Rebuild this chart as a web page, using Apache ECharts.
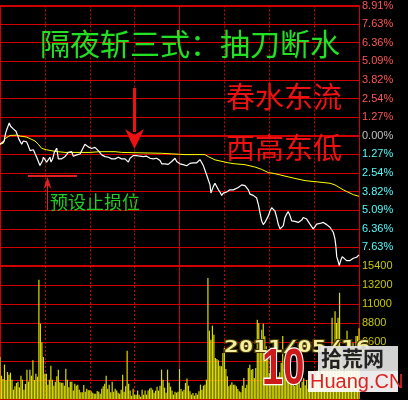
<!DOCTYPE html>
<html><head><meta charset="utf-8">
<script src="https://cdn.jsdelivr.net/npm/echarts@6/dist/echarts.min.js"></script>
<style>html,body{margin:0;padding:0;background:#000}#c{width:408px;height:400px}</style>
</head><body><div id="c"></div>
<script>
// minute of session (0..240) and % change for the price line
const priceTimes = [0,2.7,3.8,4.9,6.2,7.1,8.2,8.9,10.0,10.7,11.6,12.7,13.4,14.5,15.6,16.7,17.8,18.9,20.1,21.2,22.3,23.4,24.5,25.6,26.7,27.9,28.5,29.0,30.1,31.2,32.3,33.4,34.1,35.2,36.3,37.2,37.9,39.0,40.1,41.2,42.3,43.4,44.6,45.7,46.8,47.9,49.0,50.1,51.3,53.5,54.6,55.7,56.8,57.9,59.0,60.2,61.3,62.4,63.5,64.6,65.7,66.8,68.0,69.1,70.2,71.3,72.4,74.7,75.7,76.9,78.0,
79.1,81.3,83.6,84.7,85.8,86.9,88.0,89.1,90.2,91.4,92.5,93.6,94.7,95.8,96.9,98.0,99.1,100.3,101.4,102.5,104.7,105.8,107.0,108.1,109.2,110.3,112.5,113.6,114.8,115.9,117.0,118.1,119.2,120.3,121.5,122.5,123.7,124.8,125.9,127.0,128.1,129.2,130.3,131.5,132.6,133.7,134.8,135.9,137.0,138.2,139.3,140.4,141.0,141.9,142.6,143.7,144.8,146.0,147.1,148.2,149.3,151.5,152.6,153.7,154.9,156.0,
157.1,159.3,161.6,162.6,163.8,164.9,166.0,167.1,169.3,170.5,171.6,172.7,173.8,174.9,176.0,177.1,178.3,179.4,180.5,181.6,182.7,183.8,185.0,186.0,187.2,188.3,189.4,190.5,191.6,192.7,193.9,195.0,197.2,199.4,201.7,202.7,203.9,205.0,206.1,207.2,208.3,209.4,210.6,211.7,213.9,216.1,217.2,218.4,219.5,220.6,221.7,222.8,223.9,224.6,225.1,226.1,226.8,227.9,228.8,229.9,231.7,232.8,234.0,236.2,237.3,238.4,240];
const priceValues = [-0.58,-0.36,0.20,0.53,0.87,0.65,0.69,0.47,0.53,0.31,0.20,-0.25,-0.13,-0.58,-0.36,-0.47,-0.42,-0.69,-1.02,-1.09,-0.96,-1.02,-1.47,-1.58,-2.03,-2.07,-1.69,-1.47,-1.58,-1.80,-1.69,-1.47,-1.80,-1.58,-1.14,-1.25,-0.85,-1.58,-1.47,-1.58,-1.47,-1.43,-1.47,-1.14,-1.25,-1.09,-1.40,-1.47,-1.31,-1.25,-1.02,-0.80,-0.58,-0.62,-0.76,-0.80,-0.87,-0.76,-0.80,-0.91,-1.02,-1.14,-1.31,-1.36,-1.43,-1.40,-1.47,-1.58,-1.54,-1.58,-1.47,
-1.47,-1.58,-1.58,-1.69,-1.80,-1.54,-1.47,-1.36,-1.31,-1.36,-1.31,-1.40,-1.36,-1.43,-1.47,-1.40,-1.47,-1.54,-1.63,-1.58,-1.54,-1.58,-1.69,-1.92,-1.96,-1.92,-1.96,-1.92,-1.76,-1.63,-1.54,-1.76,-1.85,-1.92,-1.87,-1.98,-2.03,-2.05,-1.96,-1.89,-1.94,-1.85,-1.80,-1.85,-1.76,-1.63,-1.76,-2.03,-2.14,-2.70,-2.81,-3.36,-3.92,-3.85,-3.48,-3.25,-3.36,-3.70,-3.85,-4.08,-3.92,-3.85,-3.81,-3.70,-3.81,-3.70,
-3.59,-3.54,-3.36,-3.32,-3.41,-3.48,-3.70,-3.99,-4.08,-4.14,-4.26,-4.70,-5.26,-5.82,-6.08,-5.93,-5.82,-5.48,-5.15,-4.92,-4.88,-5.15,-5.59,-6.04,-6.37,-6.44,-6.15,-5.59,-5.37,-5.19,-5.48,-5.82,-5.86,-5.93,-5.77,-5.59,-5.64,-5.70,-5.82,-6.04,-6.15,-6.37,-6.22,-6.04,-6.00,-5.93,-6.00,-6.08,-6.15,-6.26,-6.37,-6.60,-7.04,-7.60,-8.27,-8.60,-8.89,-8.49,-8.27,-8.38,-8.54,-8.44,-8.54,-8.38,-8.27,-8.31,-8.15];
// average price line
const avgTimes = [0,2.2,3.3,4.5,6.7,11.1,13.4,17.8,21.2,23.4,25.6,27.9,31.2,36.8,43.4,60.2,66.8,76.9,81.3,108.1,123.7,137.0,139.3,143.7,152.6,157.1,163.8,170.5,174.9,179.4,183.8,190.5,197.2,203.9,210.6,220.6,223.9,229.5,236.2,240];
const avgValues = [-0.58,-0.51,-0.20,-0.07,0.02,0.04,-0.02,-0.09,-0.25,-0.36,-0.58,-0.87,-0.96,-1.07,-1.14,-1.14,-1.09,-1.09,-1.14,-1.20,-1.29,-1.29,-1.43,-1.65,-1.85,-1.92,-1.98,-2.14,-2.30,-2.52,-2.59,-2.76,-2.92,-3.07,-3.14,-3.25,-3.36,-3.70,-4.03,-4.14];
// per-minute volume, minute 0..240
const volumeValues = [4860,2700,2320,3980,2160,3130,2820,3050,2240,1080,
1470,1850,2010,1350,2700,2240,1080,1740,3400,2010,
3400,2700,4480,2200,2930,2590,13820,8720,6560,4860,
2930,2930,1660,2240,3860,2240,1540,2010,2630,3400,
1930,1890,1890,1540,3510,2240,1350,2010,2010,970,
1780,1540,1660,1080,770,770,1620,850,1200,1000,
1000,890,730,620,620,930,850,620,1200,1470,
1780,2700,1200,1660,770,2010,850,1200,970,730,
620,1080,2820,850,1470,5600,1780,970,390,1200,
500,500,970,500,270,1080,500,970,500,970,
1200,1310,1080,730,970,1430,970,1540,3400,2240,
1310,730,3400,1890,1430,970,500,850,730,850,
3470,1160,890,1080,1850,2360,1540,890,500,700,
390,700,500,890,1660,1080,1540,1660,2240,14010,
7910,6870,8490,7450,4750,4630,4480,3860,3780,5330,
5910,3470,2630,1470,1660,1930,1660,1660,1470,1160,
890,770,1540,2430,1270,1660,3590,3980,3400,3470,
2430,3590,9190,8800,6870,8030,8720,7260,6100,5710,
3000,2500,3400,2200,2800,1900,2600,3100,4200,7300,
3500,4500,2600,2000,3000,1800,2400,1500,2100,1700,
2900,1300,2000,2400,1600,2200,1200,1800,2600,3200,
2100,2700,3300,4000,2800,3500,4200,3600,5000,4400,
6000,5200,9400,5500,10150,8800,9400,12300,6100,3600,
3000,4500,7900,4800,5300,6900,6500,4000,7300,7300,
8200];
const pctLabels = ['8.91%','7.63%','6.36%','5.09%','3.82%','2.54%','1.27%','0.00%','1.27%','2.54%','3.82%','5.09%','6.36%','7.63%','8.91%'];
const volLabels = ['15400','13200','11000','8800','6600'];

const RED = '#d00000';
const priceData = priceTimes.map((t, i) => [t, priceValues[i]]);
const avgData = avgTimes.map((t, i) => [t, avgValues[i]]);
const volData = volumeValues.map((v, i) => [i, v]);

const chart = echarts.init(document.getElementById('c'), null, {renderer: 'canvas'});
const hideAx = {axisLine: {show: false}, axisTick: {show: false}, axisLabel: {show: false}};
const dotted = {show: true, lineStyle: {color: RED, width: 1, type: [2, 2]}};
const solid = {show: true, lineStyle: {color: RED, width: 1, type: 'solid'}};
const labelFont = {fontFamily: 'Liberation Sans', fontSize: 11};

chart.setOption({
  backgroundColor: '#000',
  animation: false,
  grid: [
    {left: 0, top: 0, width: 359, height: 266},
    {left: 0, top: 266, width: 359, height: 133}
  ],
  xAxis: [
    Object.assign({type: 'value', gridIndex: 0, min: 0, max: 240, interval: 30, splitLine: dotted}, hideAx),
    Object.assign({type: 'value', gridIndex: 0, position: 'top', min: 0, max: 240, interval: 120, splitLine: solid}, hideAx),
    Object.assign({type: 'value', gridIndex: 1, min: 0, max: 240, interval: 30, splitLine: dotted}, hideAx),
    Object.assign({type: 'value', gridIndex: 1, position: 'top', min: 0, max: 240, interval: 120, splitLine: solid}, hideAx)
  ],
  yAxis: [
    {type: 'value', gridIndex: 0, show: false, min: -8.91, max: 8.91},
    {type: 'value', gridIndex: 0, position: 'right', min: -7, max: 7, interval: 1,
      splitLine: solid, axisLine: {show: false}, axisTick: {show: false},
      axisLabel: Object.assign({show: true, margin: 3, align: 'left', showMinLabel: false, showMaxLabel: true,
        formatter: v => pctLabels[7 - Math.round(v)],
        color: v => { const n = Number(v); return n > 0 ? '#ff5454' : (n < 0 ? '#54fcfc' : '#c0c0c0'); }
      }, labelFont)},
    Object.assign({type: 'value', gridIndex: 0, position: 'left', min: -7, max: 7, interval: 7,
      splitLine: {show: true, lineStyle: {color: RED, width: 2}}}, hideAx),
    {type: 'value', gridIndex: 1, position: 'right', min: 0, max: 15400, interval: 2200,
      splitLine: solid, axisLine: {show: false}, axisTick: {show: false},
      axisLabel: Object.assign({show: true, margin: 3, align: 'left', showMaxLabel: true, color: '#c8c800',
        formatter: v => volLabels[Math.round((15400 - v) / 2200)] || ''}, labelFont)}
  ],
  series: [
    {type: 'bar', xAxisIndex: 2, yAxisIndex: 3, data: volData, barWidth: 1.2,
      itemStyle: {color: '#dcdc00'}, silent: true},
    {type: 'line', xAxisIndex: 0, yAxisIndex: 0, data: avgData, showSymbol: false,
      lineStyle: {color: '#ffff00', width: 1}, z: 3, silent: true},
    {type: 'line', xAxisIndex: 0, yAxisIndex: 0, data: priceData, showSymbol: false,
      lineStyle: {color: '#ffffff', width: 1.2}, z: 4, silent: true}
  ],
  graphic: [
    {type: 'text', x: 40, y: 44, z: 10, style: {text: '隔夜斩三式：抽刀断水', fill: '#22e022',
      font: '30px "Noto Sans CJK SC"', textAlign: 'left', textVerticalAlign: 'middle', align: 'left', verticalAlign: 'middle'}},
    {type: 'text', x: 226, y: 97, z: 10, style: {text: '春水东流', fill: '#ee1111',
      font: '29px "Noto Sans CJK SC"', textAlign: 'left', textVerticalAlign: 'middle', align: 'left', verticalAlign: 'middle'}},
    {type: 'text', x: 226, y: 148, z: 10, style: {text: '西高东低', fill: '#ee1111',
      font: '29px "Noto Sans CJK SC"', textAlign: 'left', textVerticalAlign: 'middle', align: 'left', verticalAlign: 'middle'}},
    {type: 'text', x: 50, y: 202, z: 10, style: {text: '预设止损位', fill: '#22cc22',
      font: '18px "Noto Sans CJK SC"', textAlign: 'left', textVerticalAlign: 'middle', align: 'left', verticalAlign: 'middle'}},
    {type: 'rect', z: 10, shape: {x: 28, y: 175, width: 49, height: 2}, style: {fill: '#e02020'}},
    {type: 'rect', z: 10, shape: {x: 47, y: 185, width: 1, height: 25}, style: {fill: '#e02020'}},
    {type: 'polygon', z: 10, shape: {points: [[47.5, 177], [51.5, 189], [47.5, 185], [43.5, 189]]}, style: {fill: '#e02020'}},
    {type: 'rect', z: 10, shape: {x: 133, y: 88, width: 3, height: 44}, style: {fill: '#ee1111'}},
    {type: 'polygon', z: 10, shape: {points: [[125, 129], [134.5, 135], [144, 129], [134.5, 149]]}, style: {fill: '#ee1111'}},
    {type: 'text', x: 224, y: 348, z: 11, scaleX: 1.62, style: {text: '2011/05/16', fill: '#f4f0a0',
      stroke: '#4a3a00', lineWidth: 2, font: 'bold 15px "DejaVu Sans Mono"',
      textAlign: 'left', textVerticalAlign: 'middle', align: 'left', verticalAlign: 'middle'}},
    {type: 'rect', z: 12, shape: {x: 318, y: 346, width: 80, height: 25}, style: {fill: 'rgba(228,228,228,0.92)'}},
    {type: 'text', x: 321, y: 358, z: 13, style: {text: '拾荒网', fill: '#222',
      font: 'bold 21px "Noto Sans CJK SC"', textAlign: 'left', textVerticalAlign: 'middle', align: 'left', verticalAlign: 'middle'}},
    {type: 'rect', z: 12, shape: {x: 308, y: 371, width: 90, height: 21}, style: {fill: 'rgba(255,255,255,0.92)'}},
    {type: 'text', x: 310, y: 382, z: 13, style: {text: 'Huang.CN', fill: '#dd2222',
      font: '20px "Liberation Sans"', textAlign: 'left', textVerticalAlign: 'middle', align: 'left', verticalAlign: 'middle'}},
    {type: 'text', x: 262, y: 370, z: 14, scaleY: 1.3, style: {text: '10', fill: '#cc1a1a', stroke: '#ffffff', lineWidth: 2,
      font: 'bold 38px "Liberation Sans"', textAlign: 'left', textVerticalAlign: 'middle', align: 'left', verticalAlign: 'middle'}}
  ]
});
</script>
</body></html>
